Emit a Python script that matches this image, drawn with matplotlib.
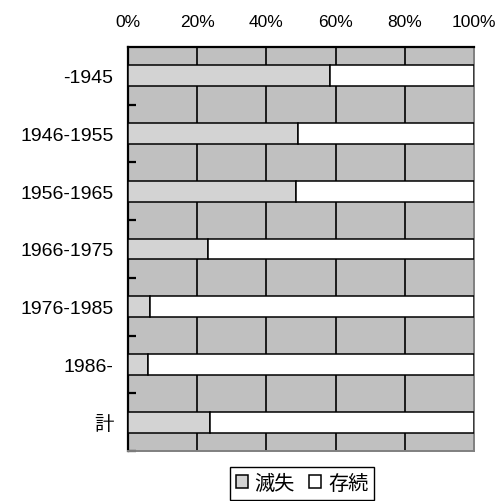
import matplotlib
matplotlib.use("Agg")
import matplotlib.pyplot as plt
import numpy as np

# Share of buildings lost vs. still standing, by construction period
categories = ["-1945", "1946-1955", "1956-1965", "1966-1975", "1976-1985", "1986-", "計"]
lost = [58.5, 49.2, 48.6, 23.2, 6.4, 5.8, 23.8]          # 滅失 (%)
surviving = [100 - v for v in lost]                      # 存続 (%)
x_ticks = [0, 20, 40, 60, 80, 100]
x_labels = ["0%", "20%", "40%", "60%", "80%", "100%"]
legend_labels = ["滅失", "存続"]

latin = ["Liberation Sans", "Noto Sans CJK JP", "DejaVu Sans"]
cjk = ["Noto Sans CJK JP", "DejaVu Sans"]

fig = plt.figure(figsize=(5.0, 5.02), dpi=100)
ax = fig.add_axes([0.256, 0.0996, 0.692, 0.8048])
ax.set_facecolor("#c0c0c0")

y = np.arange(len(categories))
h = 0.36
b1 = ax.barh(y, lost, height=h, color="#d3d3d3", edgecolor="black",
             linewidth=1.1, zorder=3, label=legend_labels[0])
b2 = ax.barh(y, surviving, left=lost, height=h, color="white",
             edgecolor="black", linewidth=1.1, zorder=3, label=legend_labels[1])

ax.set_xlim(0, 100)
ax.set_ylim(len(categories) - 0.5, -0.5)

# x axis on top, vertical black grid at every 20 %
ax.xaxis.tick_top()
ax.set_xticks(x_ticks)
ax.set_xticklabels(x_labels, family=latin, fontsize=12.5)
ax.tick_params(axis="x", length=0, pad=13)
for xv in x_ticks[1:-1]:
    ax.axvline(xv, color="black", linewidth=1.2, zorder=2)

# category labels, with small inward ticks on the boundaries between them
ax.set_yticks(y)
ax.set_yticklabels(categories, family=latin, fontsize=14)
ax.tick_params(axis="y", which="major", length=0, pad=10.5)
ax.set_yticks(np.arange(len(categories)) + 0.5, minor=True)
ax.tick_params(axis="y", which="minor", direction="in", length=5.5,
               width=1.6, color="black")

for s in ("top", "left"):
    ax.spines[s].set_color("black")
    ax.spines[s].set_linewidth(1.6)
for s in ("right", "bottom"):
    ax.spines[s].set_color("#808080")
    ax.spines[s].set_linewidth(1.4)

leg = fig.legend(handles=[b1, b2], labels=legend_labels, loc="upper center",
                 bbox_to_anchor=(0.604, 0.068), ncol=2, frameon=True,
                 fancybox=False, edgecolor="black", framealpha=1,
                 prop={"family": cjk, "size": 14.5},
                 handlelength=0.6, handleheight=0.6, handletextpad=0.35,
                 columnspacing=0.7, borderpad=0.3, borderaxespad=0)
leg.get_frame().set_linewidth(1.0)

fig.savefig("out.png", dpi=100)
